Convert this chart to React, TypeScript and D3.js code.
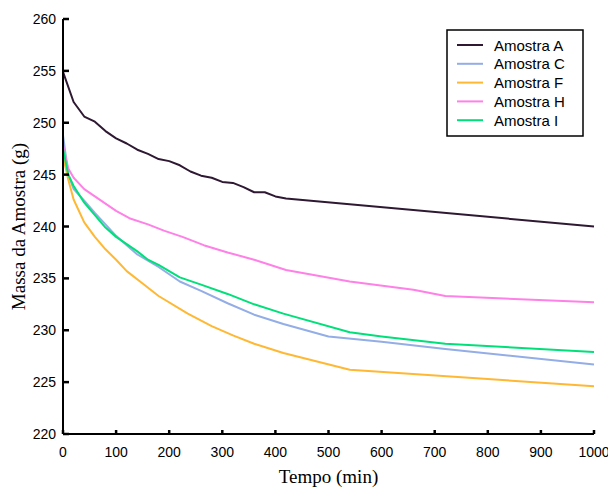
import React from "react";
import * as d3 from "d3";

type Pt = [number, number];

// Sample mass over time (minutes, grams)
const amostraA: Pt[] = [
  [0, 254.9], [20, 252.0], [40, 250.6], [60, 250.1], [80, 249.2], [100, 248.5],
  [120, 248.0], [140, 247.4], [160, 247.0], [180, 246.5], [200, 246.3], [220, 245.9],
  [240, 245.3], [260, 244.9], [280, 244.7], [300, 244.3], [320, 244.2], [340, 243.8],
  [360, 243.3], [380, 243.3], [400, 242.9], [420, 242.7], [1000, 240.0],
];
const amostraC: Pt[] = [
  [0, 248.8], [10, 245.0], [20, 243.6], [40, 242.5], [60, 241.3], [80, 240.2],
  [100, 239.1], [120, 238.2], [140, 237.3], [160, 236.7], [180, 236.1], [220, 234.7],
  [260, 233.8], [310, 232.6], [360, 231.5], [415, 230.6], [500, 229.4], [600, 228.9],
  [720, 228.2], [1000, 226.7],
];
const amostraF: Pt[] = [
  [0, 246.8], [10, 244.5], [20, 242.6], [40, 240.4], [60, 239.0], [80, 237.8],
  [100, 236.8], [120, 235.7], [150, 234.5], [180, 233.3], [235, 231.6], [280, 230.4],
  [320, 229.5], [360, 228.7], [415, 227.8], [540, 226.2], [1000, 224.6],
];
const amostraH: Pt[] = [
  [0, 247.8], [10, 245.6], [20, 244.7], [40, 243.6], [60, 242.9], [80, 242.2],
  [100, 241.5], [125, 240.8], [160, 240.2], [190, 239.6], [225, 239.0], [265, 238.2],
  [310, 237.5], [360, 236.8], [420, 235.8], [540, 234.7], [660, 233.9], [720, 233.3],
  [1000, 232.7],
];
const amostraI: Pt[] = [
  [0, 247.5], [10, 245.0], [20, 243.9], [40, 242.3], [60, 241.1], [80, 239.9],
  [100, 239.0], [120, 238.3], [140, 237.6], [160, 236.8], [180, 236.3], [220, 235.1],
  [260, 234.4], [310, 233.5], [360, 232.5], [415, 231.6], [540, 229.8], [600, 229.4],
  [720, 228.7], [1000, 227.9],
];

const seriesNames = ["Amostra A", "Amostra C", "Amostra F", "Amostra H", "Amostra I"];
const seriesData = [amostraA, amostraC, amostraF, amostraH, amostraI];
const seriesColors = ["#2e1832", "#93ade6", "#ffb833", "#ff80e6", "#00e07a"];

const xTicks = [0, 100, 200, 300, 400, 500, 600, 700, 800, 900, 1000];
const yTicks = [220, 225, 230, 235, 240, 245, 250, 255, 260];

const W = 608;
const H = 487;
const left = 63;
const right = 594;
const top = 19;
const bottom = 434;

export default function App() {
  const x = d3.scaleLinear().domain([0, 1000]).range([left, right]);
  const y = d3.scaleLinear().domain([220, 260]).range([bottom, top]);
  const line = d3
    .line<Pt>()
    .x((d) => x(d[0]))
    .y((d) => y(d[1]));

  const sans = "'Liberation Sans', Arial, sans-serif";
  const serif = "'Liberation Serif', 'Times New Roman', serif";

  const legX = 447;
  const legY = 30;
  const legW = 136;
  const legH = 106;
  const rowH = 18.8;

  return (
    <svg
      width={W}
      height={H}
      style={{ position: "absolute", left: 0, top: 0, background: "#fff" }}
    >
      {seriesData.map((d, i) => (
        <path
          key={seriesNames[i]}
          d={line(d) ?? ""}
          fill="none"
          stroke={seriesColors[i]}
          strokeWidth={2}
          strokeLinejoin="round"
        />
      ))}

      {/* axes */}
      <line x1={left} x2={left} y1={top} y2={bottom} stroke="#000" strokeWidth={2} />
      <line x1={left} x2={right} y1={bottom} y2={bottom} stroke="#000" strokeWidth={2} />
      {yTicks.map((t) => (
        <g key={`y${t}`}>
          <line x1={left} x2={left + 6} y1={y(t)} y2={y(t)} stroke="#000" strokeWidth={2.5} />
          <text
            x={left - 7}
            y={y(t)}
            textAnchor="end"
            dominantBaseline="central"
            fontFamily={sans}
            fontSize={14}
          >
            {t}
          </text>
        </g>
      ))}
      {xTicks.map((t) => (
        <g key={`x${t}`}>
          <line x1={x(t)} x2={x(t)} y1={bottom} y2={bottom - 4} stroke="#000" strokeWidth={2.5} />
          <text
            x={x(t)}
            y={bottom + 18}
            textAnchor="middle"
            dominantBaseline="central"
            fontFamily={sans}
            fontSize={14}
          >
            {t}
          </text>
        </g>
      ))}

      <text
        x={(left + right) / 2}
        y={483}
        textAnchor="middle"
        fontFamily={serif}
        fontSize={19}
      >
        Tempo (min)
      </text>
      <text
        transform={`translate(25, ${(top + bottom) / 2}) rotate(-90)`}
        textAnchor="middle"
        fontFamily={serif}
        fontSize={19}
      >
        Massa da Amostra (g)
      </text>

      {/* legend */}
      <rect x={legX} y={legY} width={legW} height={legH} fill="#fff" stroke="#000" strokeWidth={1.5} />
      {seriesNames.map((n, i) => {
        const cy = legY + 15 + i * rowH;
        return (
          <g key={`leg${n}`}>
            <line x1={legX + 10} x2={legX + 36} y1={cy} y2={cy} stroke={seriesColors[i]} strokeWidth={2} />
            <text
              x={legX + 47}
              y={cy}
              dominantBaseline="central"
              fontFamily={sans}
              fontSize={15}
            >
              {n}
            </text>
          </g>
        );
      })}
    </svg>
  );
}
